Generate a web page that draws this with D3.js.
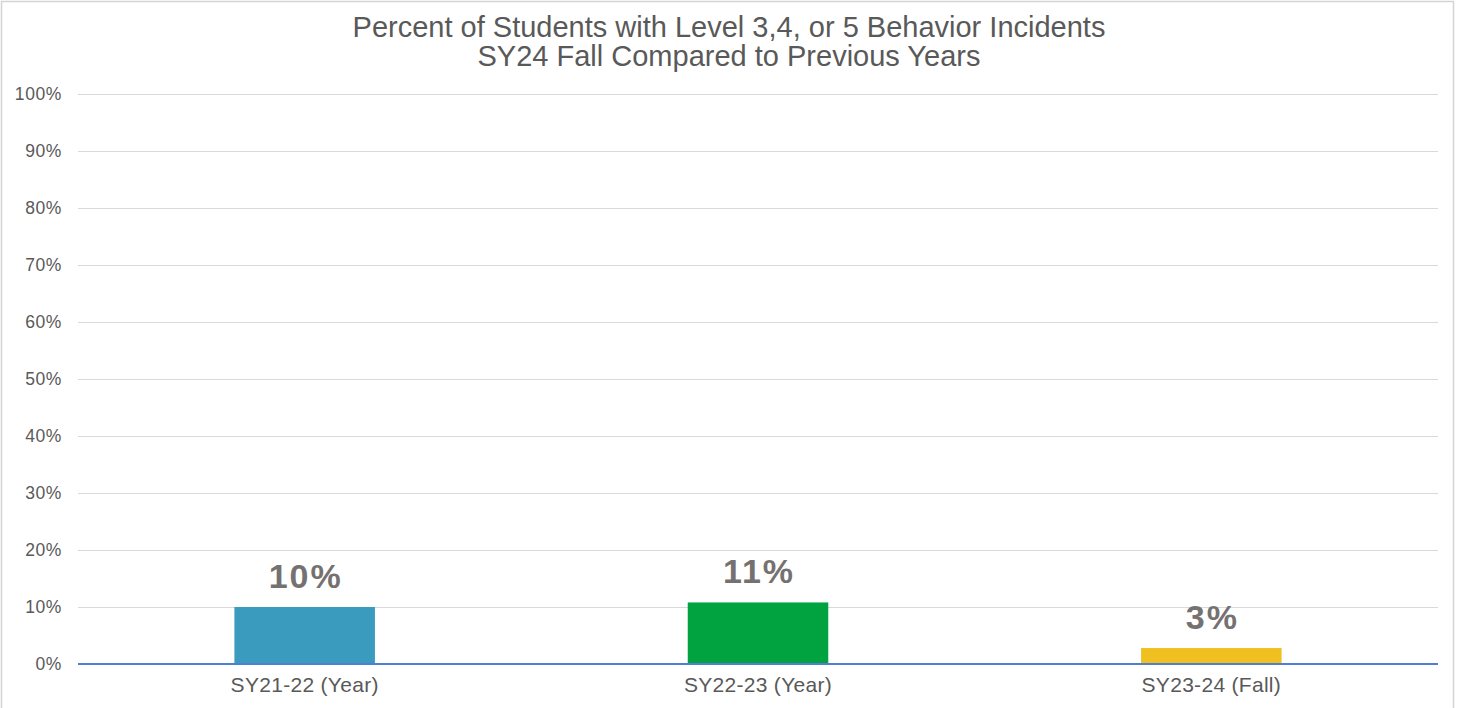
<!DOCTYPE html>
<html>
<head>
<meta charset="utf-8">
<script src="https://cdn.jsdelivr.net/npm/d3@7"></script>
<style>
  html, body { margin: 0; padding: 0; background: #fff; }
  svg { display: block; font-family: "Liberation Sans", Arial, Helvetica, sans-serif; }
</style>
</head>
<body>
<svg id="chart" width="1458" height="708"></svg>
<script>
// Chart data
const categories = ["SY21-22 (Year)", "SY22-23 (Year)", "SY23-24 (Fall)"];
const values = [0.100, 0.108, 0.028];
const barColors = ["#3A9BBF", "#00A33F", "#F0C020"];
const yTicks = [0, 0.1, 0.2, 0.3, 0.4, 0.5, 0.6, 0.7, 0.8, 0.9, 1.0];
const titleLines = ["Percent of Students with Level 3,4, or 5 Behavior Incidents",
                    "SY24 Fall Compared to Previous Years"];

const W = 1458, H = 708;
const margin = { top: 94, right: 20, bottom: 45, left: 78 };
const plotW = W - margin.left - margin.right;
const plotBottom = 664;

const svg = d3.select("#chart");

// outer frame of the chart area
svg.append("rect")
  .attr("x", 1.5).attr("y", 1.5)
  .attr("width", 1452).attr("height", 730)
  .attr("fill", "none").attr("stroke", "#d4d4d4").attr("stroke-width", 1.5);

const x = d3.scaleBand()
  .domain(categories)
  .range([margin.left, margin.left + plotW])
  .paddingInner(0.69).paddingOuter(0.345);

const y = d3.scaleLinear()
  .domain([0, 1])
  .range([plotBottom, margin.top]);

// horizontal gridlines
svg.append("g")
  .selectAll("line")
  .data(yTicks.filter(d => d > 0))
  .join("line")
  .attr("x1", margin.left).attr("x2", margin.left + plotW)
  .attr("y1", d => Math.round(y(d)) + 0.5).attr("y2", d => Math.round(y(d)) + 0.5)
  .attr("stroke", "#d9d9d9").attr("stroke-width", 1);

// y axis labels
const yAxis = d3.axisLeft(y).tickValues(yTicks).tickFormat(d3.format(".0%")).tickSize(0).tickPadding(16);
svg.append("g")
  .attr("transform", `translate(${margin.left},0)`)
  .call(yAxis)
  .call(g => g.select(".domain").remove())
  .call(g => g.selectAll("text")
    .attr("fill", "#595959")
    .attr("font-size", 17.5)
    .attr("letter-spacing", 0.6)
    .attr("font-family", "Liberation Sans, Arial, sans-serif"));

// bars
svg.append("g")
  .selectAll("rect")
  .data(categories)
  .join("rect")
  .attr("x", d => x(d))
  .attr("width", x.bandwidth())
  .attr("y", (d, i) => y(values[i]))
  .attr("height", (d, i) => y(0) - y(values[i]))
  .attr("fill", (d, i) => barColors[i]);

// value labels
svg.append("g")
  .selectAll("text")
  .data(categories)
  .join("text")
  .attr("x", d => x(d) + x.bandwidth() / 2 + 1)
  .attr("y", (d, i) => y(values[i]) - 19)
  .attr("text-anchor", "middle")
  .attr("font-size", 34)
  .attr("letter-spacing", 2)
  .attr("font-weight", "bold")
  .attr("fill", "#767171")
  .text((d, i) => d3.format(".0%")(values[i]));

// baseline
svg.append("line")
  .attr("x1", margin.left).attr("x2", margin.left + plotW)
  .attr("y1", y(0)).attr("y2", y(0))
  .attr("stroke", "#4F7FD0").attr("stroke-width", 2);

// x axis labels
const xAxis = d3.axisBottom(x).tickSize(0).tickPadding(13);
svg.append("g")
  .attr("transform", `translate(0,${plotBottom})`)
  .call(xAxis)
  .call(g => g.select(".domain").remove())
  .call(g => g.selectAll("text")
    .attr("fill", "#595959")
    .attr("font-size", 21)
    .attr("letter-spacing", 0.3)
    .attr("font-family", "Liberation Sans, Arial, sans-serif"));

// title
svg.append("g")
  .selectAll("text")
  .data(titleLines)
  .join("text")
  .attr("x", W / 2)
  .attr("y", (d, i) => 37 + i * 29)
  .attr("text-anchor", "middle")
  .attr("font-size", 29)
  .attr("fill", "#595959")
  .text(d => d);
</script>
</body>
</html>
